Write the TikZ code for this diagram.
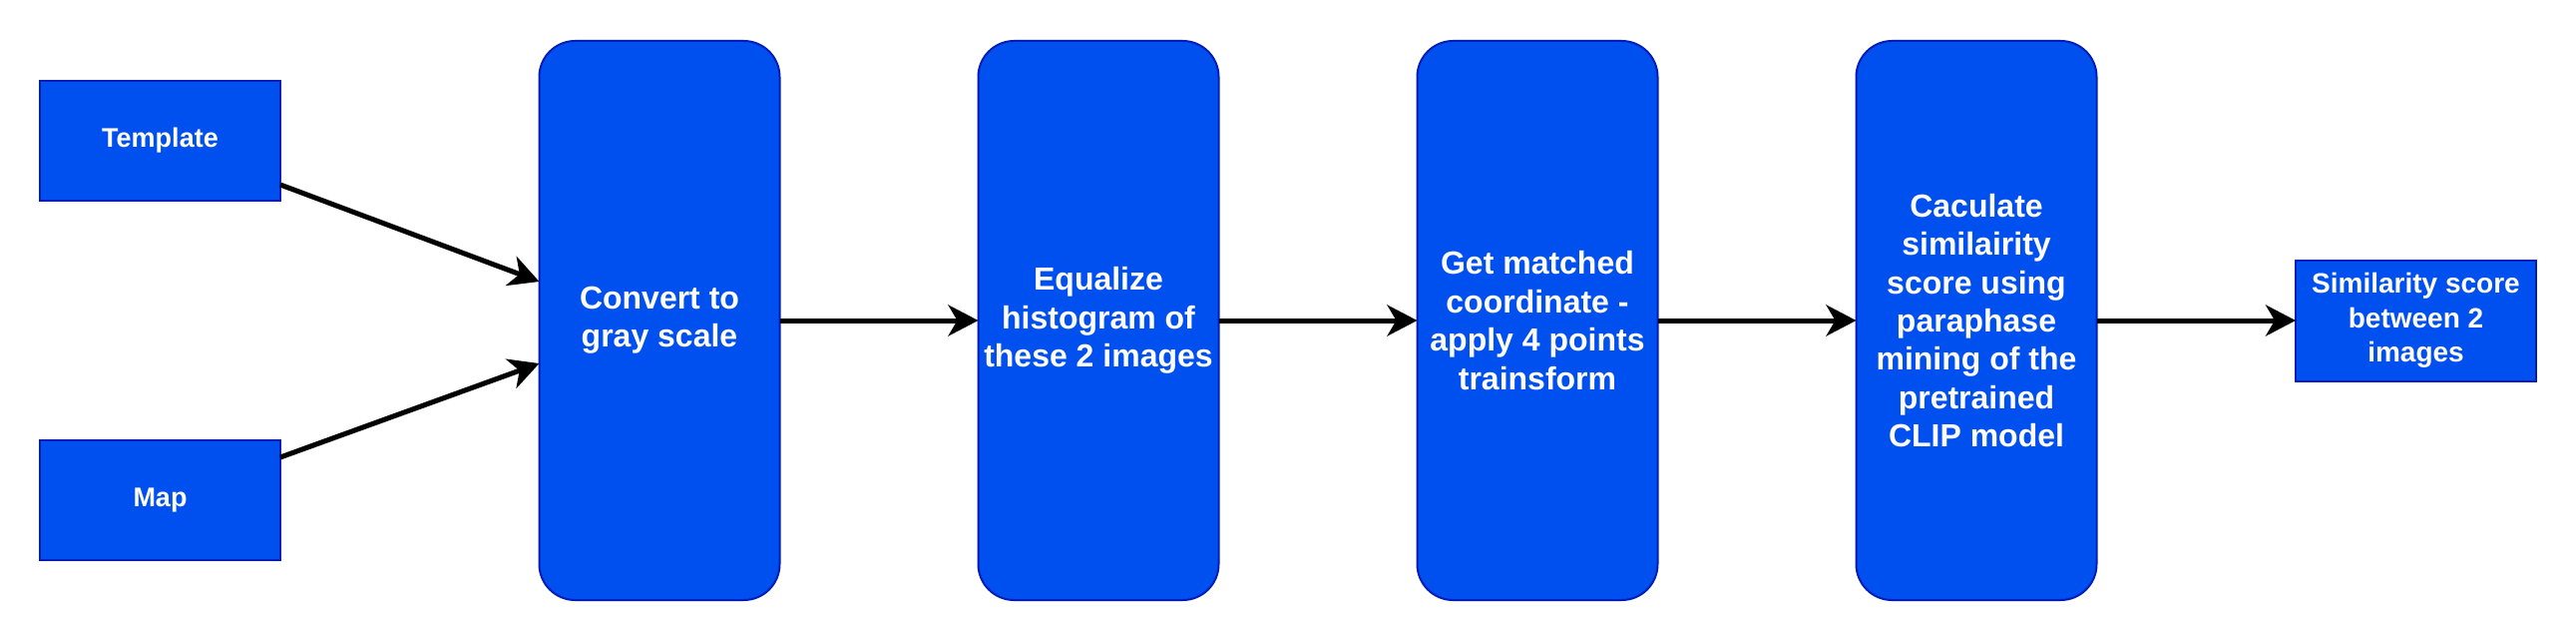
\documentclass[tikz,border=0pt]{standalone}
\usepackage{fontspec}
\setmainfont{Liberation Sans}
\usetikzlibrary{arrows.meta,calc}
\definecolor{boxfill}{HTML}{0050EF}
\definecolor{boxline}{HTML}{001DBC}
\tikzset{
  base/.style={draw=boxline, fill=boxfill, line width=1pt, text=white, align=center, inner sep=0pt, outer sep=0pt},
  smallbox/.style={base, minimum width=120.5pt, minimum height=60pt, font=\fontsize{13.5}{16.5}\selectfont\bfseries},
  stagebox/.style={base, rounded corners=18pt, minimum width=120.5pt, minimum height=280pt, font=\fontsize{16}{19.2}\selectfont\bfseries},
  outbox/.style={base, minimum width=120.5pt, minimum height=60.5pt, font=\fontsize{14}{17.3}\selectfont\bfseries},
  flow/.style={line width=2.5pt, -{Stealth[length=15pt, width=15.5pt, inset=4.5pt]}}
}
\begin{document}
\begin{tikzpicture}[x=0.5pt,y=-0.5pt]
\useasboundingbox (0,0) rectangle (2582,642);
\node[smallbox] (tmpl) at (160.5,141) {Template};
\node[smallbox] (map) at (160.5,501) {Map};
\node[stagebox] (b1) at (661,321) {Convert to\\gray scale};
\node[stagebox] (b2) at (1101,321) {Equalize\\histogram of\\these 2 images};
\node[stagebox] (b3) at (1541,321) {Get matched\\coordinate -\\apply 4 points\\trainsform};
\node[stagebox] (b4) at (1981,321) {Caculate\\similairity\\score using\\paraphase\\mining of the\\pretrained\\CLIP model};
\node[outbox] (out) at (2421.5,321) {Similarity score\\between 2\\images};
\draw[flow] ($(tmpl.east)+(0,44)$) -- ($(b1.west)+(0,-39)$);
\draw[flow] ($(map.east)+(0,-43)$) -- ($(b1.west)+(0,43)$);
\draw[flow] (b1.east) -- (b2.west);
\draw[flow] (b2.east) -- (b3.west);
\draw[flow] (b3.east) -- (b4.west);
\draw[flow] (b4.east) -- (out.west);
\end{tikzpicture}
\end{document}
